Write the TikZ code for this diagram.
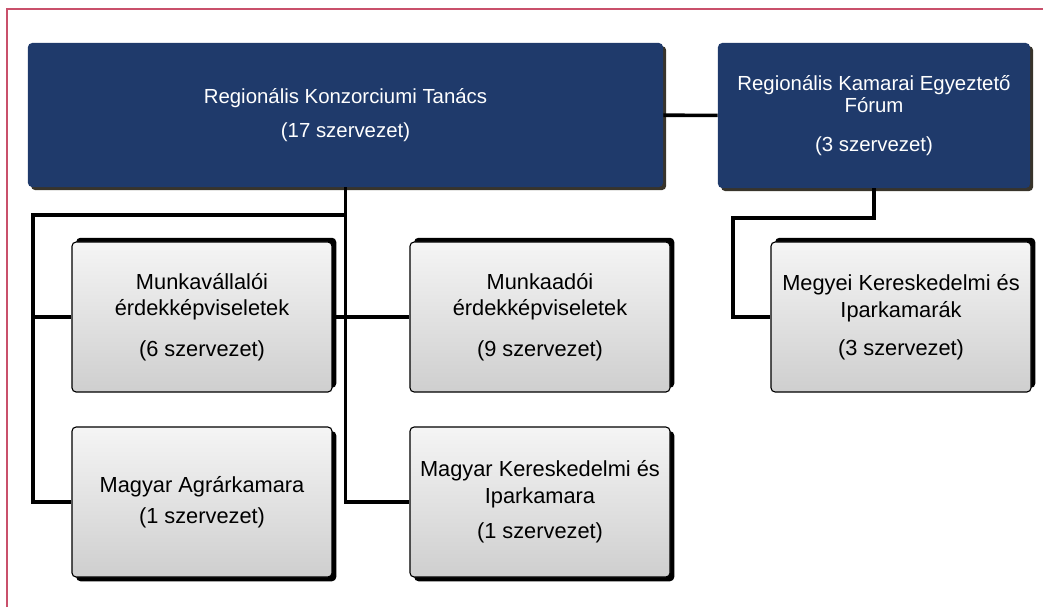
\documentclass[tikz,border=0pt]{standalone}
\usepackage{fontspec}
\setmainfont{Liberation Sans}
\usetikzlibrary{shadows}
\definecolor{navy}{HTML}{1F3A6B}
\definecolor{framered}{HTML}{C9506B}
\tikzset{
  headbox/.style={fill=navy, text=white, rounded corners=3pt, align=center,
    font=\fontsize{14.5}{15.5}\selectfont, inner sep=0pt,
    drop shadow={shadow xshift=2.2pt, shadow yshift=-2.2pt, fill=black!80!olive, opacity=1}},
  orgbox/.style={draw=black, line width=0.8pt, top color=gray!8, bottom color=gray!38,
    rounded corners=3pt, align=center, font=\fontsize{15.5}{19}\selectfont,
    inner sep=0pt, minimum width=6.5cm, minimum height=3.75cm},
  upshade/.style={drop shadow={shadow xshift=3pt, shadow yshift=3pt, fill=black, opacity=1}},
  downshade/.style={drop shadow={shadow xshift=3pt, shadow yshift=-3pt, fill=black, opacity=1}},
  link/.style={draw=black, line width=2.6pt}
}
\begin{document}
\begin{tikzpicture}[x=0.025cm, y=-0.025cm]
\useasboundingbox (0,0) rectangle (1043,607);
\draw[framered, line width=1.4pt] (7,607) -- (7,9) -- (1043,9);

\node[headbox, minimum width=15.875cm, minimum height=3.6cm] (rkt) at (345.5,115)
  {Regionális Konzorciumi Tanács\\[9pt](17 szervezet)};
\node[headbox, minimum width=7.8cm, minimum height=3.625cm] (rkef) at (874,115.5)
  {Regionális Kamarai Egyeztető\\Fórum\\[12pt](3 szervezet)};

\node[orgbox, upshade] (mvi) at (202,317) {Munkavállalói\\érdekképviseletek\\[10pt](6 szervezet)};
\node[orgbox, upshade] (mai) at (540,317) {Munkaadói\\érdekképviseletek\\[10pt](9 szervezet)};
\node[orgbox, downshade] (maga) at (202,502) {Magyar Agrárkamara\\[3pt](1 szervezet)};
\node[orgbox, downshade] (mki) at (540,502) {Magyar Kereskedelmi és\\Iparkamara\\[6pt](1 szervezet)};
\node[orgbox, upshade] (megy) at (901,317) {Megyei Kereskedelmi és\\Iparkamarák\\[8pt](3 szervezet)};

\coordinate (lspine) at (33,215);
\coordinate (rspine) at (733,218);
\draw[link] (rkt) -- (rkef);
\draw[link] (rkt.south) |- (mki.west);
\draw[link] (rkt.south |- lspine) -- (lspine) |- (maga.west);
\draw[link] (lspine |- mvi.west) -- (mvi.west);
\draw[link] (mvi.east) -- (mai.west);
\draw[link] (rkef.south) |- (rspine) |- (megy.west);
\end{tikzpicture}
\end{document}
